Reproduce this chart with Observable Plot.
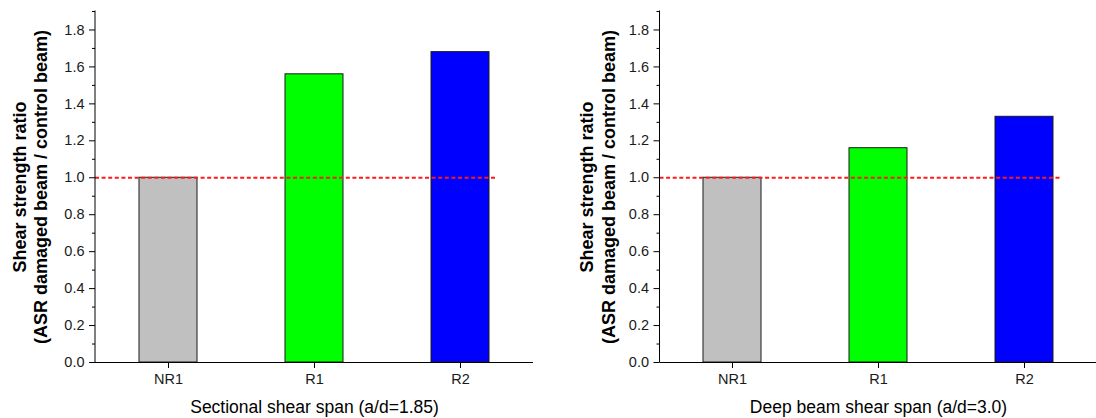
<!DOCTYPE html>
<html>
<head>
<meta charset="utf-8">
<script src="https://cdn.jsdelivr.net/npm/d3@7"></script>
<script src="https://cdn.jsdelivr.net/npm/@observablehq/plot@0.6"></script>
<style>
  body { margin: 0; background: #fff; }
  #wrap { position: relative; width: 1096px; height: 418px; overflow: hidden; }
  #wrap svg { position: absolute; top: 0; }
</style>
</head>
<body>
<div id="wrap"></div>
<script>
// Beam specimens and their shear strength ratios
const categories = ["NR1", "R1", "R2"];
const sectionalRatio = [1.00, 1.56, 1.68];
const deepBeamRatio = [1.00, 1.16, 1.33];
const barColors = ["#c0c0c0", "#00ff00", "#0000ff"];

// Axis ticks
const majorTicks = [0.0, 0.2, 0.4, 0.6, 0.8, 1.0, 1.2, 1.4, 1.6, 1.8];
const minorTicks = [0.1, 0.3, 0.5, 0.7, 0.9, 1.1, 1.3, 1.5, 1.7, 1.9];
const referenceRatio = 1.0;

const yTitle = "Shear strength ratio\n(ASR damaged beam / control beam)";
const sectionalTitle = "Sectional shear span (a/d=1.85)";
const deepBeamTitle = "Deep beam shear span (a/d=3.0)";

const font = "'Liberation Sans', Arial, Helvetica, sans-serif";

// Vertical axis line along the left edge of the plotting frame
function leftAxisLine(index, scales, values, dim) {
  const line = document.createElementNS("http://www.w3.org/2000/svg", "line");
  line.setAttribute("x1", dim.marginLeft);
  line.setAttribute("x2", dim.marginLeft);
  line.setAttribute("y1", dim.marginTop - 0.5);
  line.setAttribute("y2", dim.height - dim.marginBottom);
  line.setAttribute("stroke", "#000");
  line.setAttribute("stroke-width", 1);
  return line;
}

function panel(values, xTitle, layout) {
  const rows = categories.map((c, i) => ({category: c, value: values[i]}));
  return Plot.plot({
    width: layout.width,
    height: 418,
    marginLeft: layout.axisX,
    marginRight: layout.width - layout.dashEnd,
    marginTop: 11,
    marginBottom: 56,
    style: {fontFamily: font, fontSize: "14px", color: "#1a1a1a", background: "transparent"},
    x: {type: "band", domain: categories, range: [layout.axisX, layout.axisEnd],
        paddingInner: 0.6, paddingOuter: 0.3, align: 0.5, label: null},
    y: {domain: [0, 1.9], label: null},
    color: {domain: categories, range: barColors},
    marks: [
      Plot.barY(rows, {x: "category", y: "value", fill: "category", stroke: "#1a1a1a", strokeWidth: 1}),
      Plot.ruleY([referenceRatio], {stroke: "#ff1a1a", strokeWidth: 1.8, strokeDasharray: "4,2.6"}),
      Plot.ruleY([0], {stroke: "#000", strokeWidth: 1, insetRight: -(layout.axisEnd - layout.dashEnd)}),
      leftAxisLine,
      Plot.axisY({ticks: majorTicks, tickSize: 6, tickPadding: 5, tickFormat: d3.format(".1f"),
                  label: null, stroke: "#000", strokeOpacity: 1, fontSize: 14.5, fill: "#1a1a1a"}),
      Plot.axisY({ticks: minorTicks, tickSize: 3, text: null, label: null, stroke: "#000", strokeOpacity: 1}),
      Plot.axisX({tickSize: 6, tickPadding: 5, label: null, stroke: "#000", strokeOpacity: 1,
                  fontSize: 14.5, fill: "#1a1a1a"}),
      Plot.text([yTitle], {text: d => d, frameAnchor: "left", dx: -layout.titleOffset, rotate: -90,
                           fontSize: 18, fontWeight: "bold", lineHeight: 1.2,
                           textAnchor: "middle", lineAnchor: "middle", fill: "#000"}),
      Plot.text([xTitle], {text: d => d, x: () => categories[1], frameAnchor: "bottom", dy: 45,
                           fontSize: 17.5, lineAnchor: "middle", fill: "#000"})
    ]
  });
}

const wrap = document.getElementById("wrap");
const left = panel(sectionalRatio, sectionalTitle,
  {width: 548, axisX: 95, dashEnd: 496, axisEnd: 533, titleOffset: 66});
left.style.left = "0px";
const right = panel(deepBeamRatio, deepBeamTitle,
  {width: 550, axisX: 111.5, dashEnd: 512.7, axisEnd: 549.5, titleOffset: 63});
right.style.left = "548px";
wrap.appendChild(left);
wrap.appendChild(right);
</script>
</body>
</html>
